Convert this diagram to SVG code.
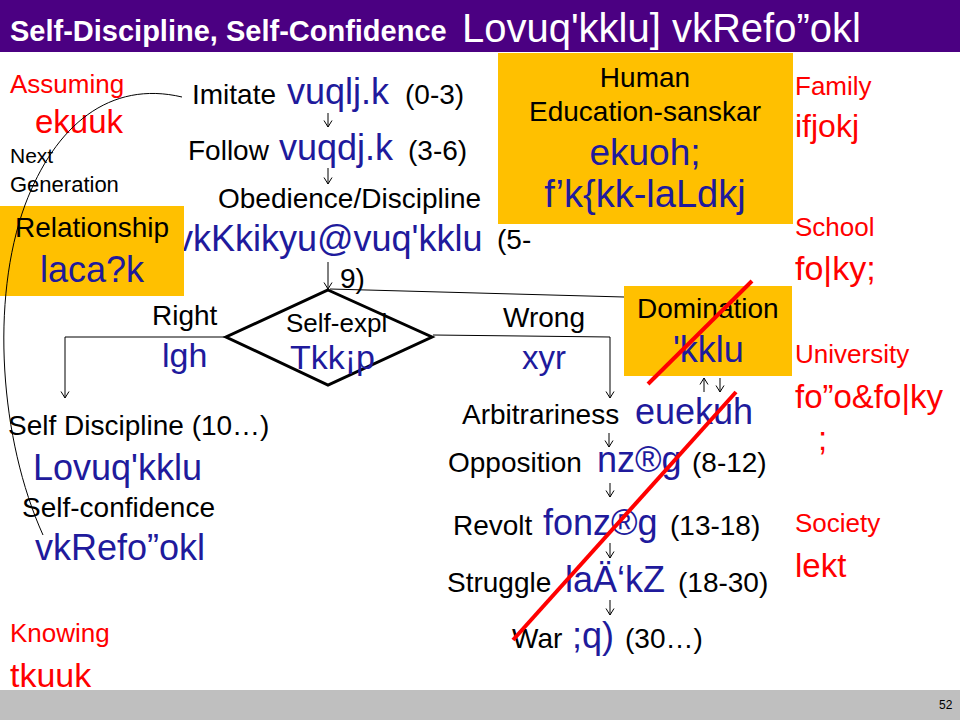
<svg xmlns="http://www.w3.org/2000/svg" width="960" height="720" viewBox="0 0 960 720">
<style>
text { font-family: "Liberation Sans", Arial, sans-serif; fill: #000; font-size: 28px; }
.k { fill: #201a9c; font-size: 36px; }
.r { fill: #ff0000; font-size: 26px; }
.rk { fill: #ff0000; font-size: 33px; }
.box { fill: #ffc000; }
.c { stroke: #000; stroke-width: 1; fill: none; }
.a { marker-end: url(#ah); }
.strike { stroke: #ff0000; stroke-width: 4; stroke-linecap: butt; }
</style>
<defs>
<marker id="ah" markerWidth="10" markerHeight="10" refX="8" refY="5" orient="auto" markerUnits="userSpaceOnUse">
<path d="M1.5,1 L8,5 L1.5,9" fill="none" stroke="#000" stroke-width="1"/>
</marker>
</defs>
<rect x="0" y="0" width="960" height="720" fill="#fff"/>
<g id="title">
<rect x="0" y="0" width="960" height="52" fill="#4b0082"/>
<text x="10" y="41" style="fill:#fff;font-weight:bold;font-size:29px">Self-Discipline, Self-Confidence</text>
<text x="462" y="42" style="fill:#fff;font-size:40px">Lovuq'kklu] vkRefo”okl</text>
</g>
<g id="imitate"><text y="104"><tspan x="192">Imitate</tspan><tspan x="287" class="k">vuqlj.k</tspan><tspan x="405">(0-3)</tspan></text></g>
<g id="follow"><text y="160"><tspan x="188">Follow</tspan><tspan x="279" class="k">vuqdj.k</tspan><tspan x="408">(3-6)</tspan></text></g>
<g id="obedience">
<text x="218" y="208">Obedience/Discipline</text>
<text x="175" y="251" class="k">vkKkikyu@vuq'kklu</text>
<text x="497" y="249">(5-</text>
<text x="340" y="288">9)</text>
</g>
<g id="human">
<rect class="box" x="498" y="53" width="295" height="171"/>
<text x="645" y="87" text-anchor="middle">Human</text>
<text x="645" y="121" text-anchor="middle">Education-sanskar</text>
<text x="645" y="165" text-anchor="middle" class="k" style="font-size:37px">ekuoh;</text>
<text x="645" y="207" text-anchor="middle" class="k" style="font-size:38px">f’k{kk-laLdkj</text>
</g>
<g id="relationship">
<rect class="box" x="0" y="206" width="184" height="90"/>
<text x="15" y="237">Relationship</text>
<text x="40" y="282" class="k">laca?k</text>
</g>
<g id="domination">
<rect class="box" x="624" y="286" width="168" height="90"/>
<text x="637" y="318">Domination</text>
<text x="673" y="362" class="k">'kklu</text>
</g>
<g id="selfexpl">
<polygon points="328,290 432,337 328,385 226,337" fill="none" stroke="#000" stroke-width="3"/>
<text x="286" y="332" style="font-size:26px">Self-expl</text>
<text x="290" y="369" class="k" style="font-size:34px">Tkk¡p</text>
</g>
<g id="right"><text x="152" y="325">Right</text><text x="162" y="367" class="k" style="font-size:34px">lgh</text></g>
<g id="wrong"><text x="503" y="327">Wrong</text><text x="522" y="369" class="k" style="font-size:33px">xyr</text></g>
<g id="arbitrariness"><text y="424"><tspan x="462">Arbitrariness</tspan><tspan x="635" class="k">euekuh</tspan></text></g>
<g id="opposition"><text y="472"><tspan x="448">Opposition</tspan><tspan x="597" class="k">nz®g</tspan><tspan x="692">(8-12)</tspan></text></g>
<g id="revolt"><text y="535"><tspan x="453">Revolt</tspan><tspan x="543" class="k">fonz®g</tspan><tspan x="670">(13-18)</tspan></text></g>
<g id="struggle"><text y="592"><tspan x="447">Struggle</tspan><tspan x="565" class="k">laÄ‘kZ</tspan><tspan x="678">(18-30)</tspan></text></g>
<g id="war"><text y="648"><tspan x="512">War</tspan><tspan x="572" class="k">;q)</tspan><tspan x="625">(30…)</tspan></text></g>
<g id="selfdiscipline">
<text x="8" y="435">Self Discipline (10…)</text>
<text x="33" y="480" class="k">Lovuq'kklu</text>
<text x="22" y="517">Self-confidence</text>
<text x="35" y="560" class="k">vkRefo”okl</text>
</g>
<g id="assuming"><text x="10" y="93" class="r">Assuming</text><text x="35" y="133" class="rk">ekuuk</text></g>
<g id="nextgen"><text x="10" y="163" style="font-size:21px">Next</text><text x="10" y="192" style="font-size:22px">Generation</text></g>
<g id="knowing"><text x="10" y="642" class="r">Knowing</text><text x="10" y="687" class="rk" style="font-size:34px">tkuuk</text></g>
<g id="family"><text x="795" y="95" class="r">Family</text><text x="795" y="137" class="rk" style="font-size:32px">ifjokj</text></g>
<g id="school"><text x="795" y="236" class="r">School</text><text x="795" y="280" class="rk" style="font-size:34px">fo|ky;</text></g>
<g id="university"><text x="795" y="363" class="r">University</text><text x="795" y="408" class="rk">fo”o&amp;fo|ky</text><text x="818" y="450" class="rk">;</text></g>
<g id="society"><text x="795" y="532" class="r">Society</text><text x="795" y="577" class="rk">lekt</text></g>
<g id="connectors">
<line class="c a" x1="328" y1="113" x2="328" y2="127"/>
<line class="c a" x1="328" y1="168" x2="328" y2="184"/>
<line class="c a" x1="328" y1="262" x2="328" y2="289"/>
<line class="c" x1="624" y1="297" x2="330" y2="289"/>
<path class="c a" d="M226,337 L65,337 L65,398"/>
<path class="c a" d="M433,335 L610,337 L610,398"/>
<line class="c a" x1="609" y1="433" x2="609" y2="447"/>
<line class="c a" x1="610" y1="483" x2="610" y2="497"/>
<line class="c a" x1="610" y1="543" x2="610" y2="558"/>
<line class="c a" x1="610" y1="600" x2="610" y2="615"/>
<line class="c a" x1="704" y1="392" x2="704" y2="378"/>
<line class="c a" x1="720" y1="378" x2="720" y2="392"/>
<path class="c" d="M43,535 C0,440 -10,300 25,205 C55,125 110,80 182,97"/>
</g>
<g id="strikes">
<line class="strike" x1="648" y1="384" x2="752" y2="281"/>
<line class="strike" x1="513" y1="640" x2="736" y2="392"/>
</g>
<g id="footer">
<rect x="0" y="690" width="960" height="30" fill="#bfbfbf"/>
<text x="939" y="709" style="font-size:12px">52</text>
</g>
</svg>
